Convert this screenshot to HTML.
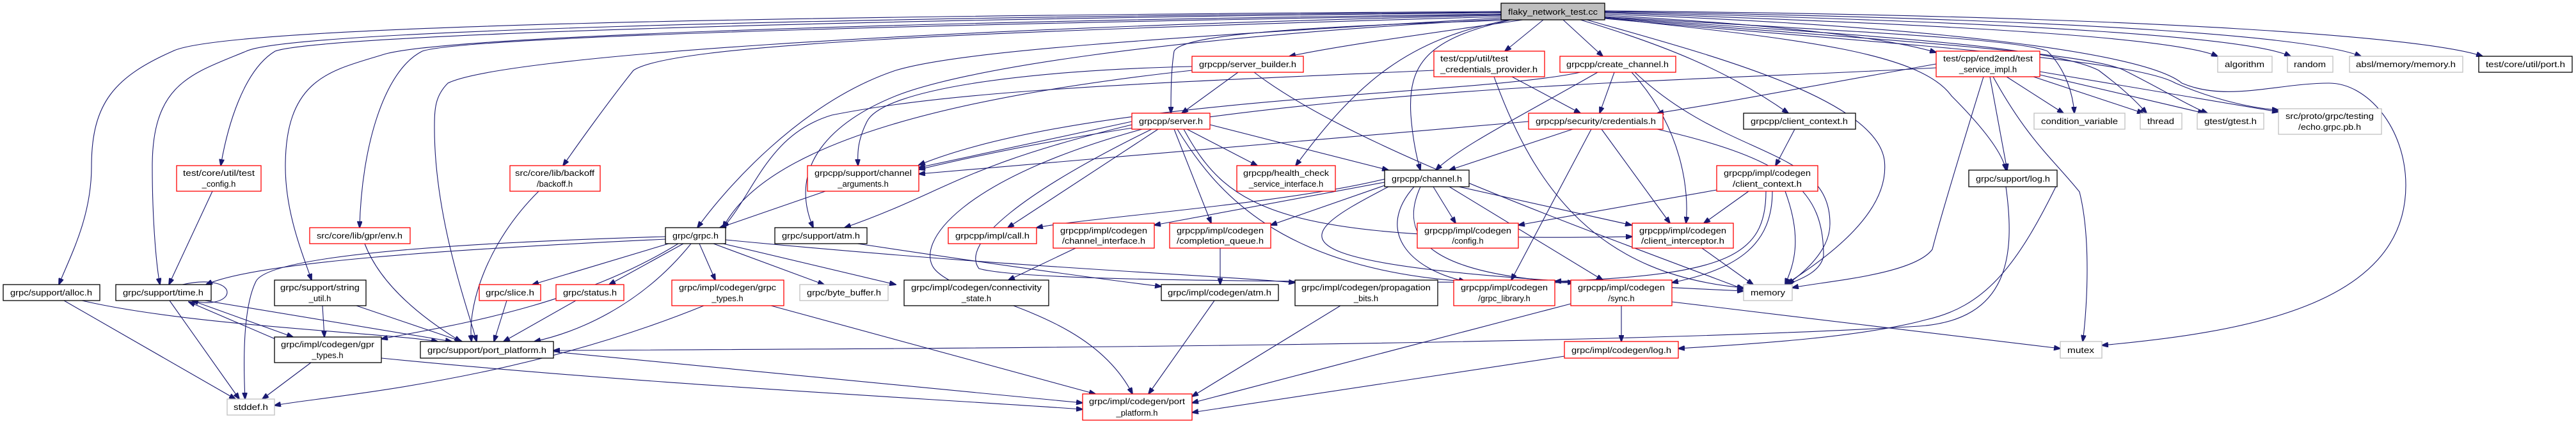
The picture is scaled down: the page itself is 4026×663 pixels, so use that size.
<!DOCTYPE html>
<html><head><meta charset="utf-8"><style>
html,body{margin:0;padding:0;background:#fff;}
svg{display:block;}
text{font-family:"Liberation Sans Narrow","Liberation Sans",sans-serif;font-size:13px;fill:#000;}
.e{fill:none;stroke:#191970;stroke-width:1.1;marker-end:url(#a);}
.r{fill:#fff;stroke:#ff0000;stroke-width:1.3;}
.b{fill:#fff;stroke:#000;stroke-width:1.3;}
.g{fill:#fff;stroke:#bfbfbf;stroke-width:1.3;}
</style></head><body>
<svg width="4026" height="663" viewBox="0 0 4026 663" xmlns="http://www.w3.org/2000/svg">
<defs><marker id="a" markerWidth="11" markerHeight="8" refX="10" refY="4" orient="auto" markerUnits="userSpaceOnUse"><path d="M0,0 L11,4 L0,8 z" fill="#191970" stroke="#191970"/></marker></defs>

<!-- edges from flaky -->
<path class="e" d="M2346,18 C1200,25 350,40 270,80 C180,120 143,160 143,260 C143,340 110,400 92,445"/>
<path class="e" d="M2346,19 C1200,28 450,50 385,80 C300,115 238,130 238,260 C238,350 245,420 250,445"/>
<path class="e" d="M2346,20 C1300,30 500,55 430,80 C380,110 355,200 345,259"/>
<path class="e" d="M2346,22 C1300,35 680,60 600,85 C520,110 446,120 446,260 C446,330 470,390 487,438"/>
<path class="e" d="M2346,23 C1300,40 720,60 660,80 C600,110 565,230 562,356"/>
<path class="e" d="M2346,24 C1400,45 780,90 700,130 C680,150 679,170 679,200 C679,340 730,480 745,534"/>
<path class="e" d="M2346,26 C1500,50 1050,70 990,110 C950,160 900,230 880,259"/>
<path class="e" d="M2346,28 C1800,60 1500,80 1400,110 C1250,160 1130,300 1090,356"/>
<path class="e" d="M2346,30 C1800,60 1500,110 1400,150 C1300,190 1230,260 1271,356"/>
<path class="e" d="M2370,31 C2100,40 1850,50 1835,80 C1830,110 1830,150 1830,177"/>
<path class="e" d="M2380,31 C2250,50 2100,70 2015,88"/>
<path class="e" d="M2360,31 C2200,60 2120,130 2025,259"/>
<path class="e" d="M2362,31 C2230,60 2200,100 2205,180 C2208,220 2215,250 2220,266"/>
<path class="e" d="M2412,31 L2352,80"/>
<path class="e" d="M2443,31 L2505,88"/>
<path class="e" d="M2470,31 C2600,70 2700,110 2795,177"/>
<path class="e" d="M2480,31 C2650,80 2930,150 2945,250 C2955,330 2860,400 2790,445"/>
<path class="e" d="M2508,28 C2800,60 3000,80 3050,150 C3100,200 3130,240 3135,266"/>
<path class="e" d="M2508,22 C3000,40 3350,80 3410,130 C3480,160 3560,130 3640,130 C3700,130 3760,200 3760,290 C3760,480 3500,520 3285,540"/>
<path class="e" d="M2508,24 C2800,40 2950,60 3026,82"/>
<path class="e" d="M2508,20 C3100,40 3400,60 3466,88"/>
<path class="e" d="M2508,19 C3200,35 3520,60 3580,88"/>
<path class="e" d="M2508,18 C3300,30 3620,60 3690,88"/>
<path class="e" d="M2508,17 C3400,25 3800,60 3880,88"/>
<path class="e" d="M2508,26 C2900,50 3150,60 3200,80 C3230,110 3240,150 3242,177"/>
<path class="e" d="M2508,27 C2900,55 3200,70 3280,110 C3320,140 3340,160 3355,177"/>
<path class="e" d="M2508,28 C2900,60 3260,80 3320,110 C3380,140 3420,165 3450,177"/>
<path class="e" d="M2508,29 C2900,65 3330,90 3400,130 C3470,160 3530,170 3561,172"/>

<!-- left cluster -->
<path class="e" d="M332,299 L264,445"/>
<path class="e" d="M842,299 C760,380 730,480 737,534"/>
<path class="e" d="M570,381 C600,460 690,515 720,534"/>
<path class="e" d="M504,478 L507,527"/>
<path class="e" d="M557,478 L722,534"/>
<path class="e" d="M100,470 L368,624"/>
<path class="e" d="M128,470 C300,510 600,520 684,534"/>
<path class="e" d="M265,470 L374,624"/>
<path class="e" d="M285,445 C330,435 355,445 355,457 C355,470 330,478 300,470"/>
<path class="e" d="M320,470 L706,534"/>
<path class="e" d="M300,470 L458,527"/>
<path class="e" d="M430,530 L295,472"/>
<path class="e" d="M486,567 L410,624"/>
<path class="e" d="M596,560 C1000,600 1400,620 1692,640"/>
<path class="e" d="M865,550 C1200,580 1500,610 1692,630"/>
<path class="e" d="M792,470 L772,534"/>
<path class="e" d="M900,470 L787,534"/>

<!-- grpc.h -->
<path class="e" d="M1040,374 C700,390 400,410 322,445"/>
<path class="e" d="M1040,370 C700,380 420,400 400,440 C380,480 380,560 383,624"/>
<path class="e" d="M1045,381 L832,445"/>
<path class="e" d="M1068,381 L952,445"/>
<path class="e" d="M1060,381 C900,480 700,510 596,530"/>
<path class="e" d="M1080,381 C1000,480 900,520 835,534"/>
<path class="e" d="M1093,381 L1118,438"/>
<path class="e" d="M1115,381 L1288,445"/>
<path class="e" d="M1130,381 L1400,445"/>
<path class="e" d="M1134,375 C1600,420 1900,430 2024,442"/>
<path class="e" d="M1100,478 C800,600 500,620 429,634"/>
<path class="e" d="M1205,478 L1712,616"/>
<path class="e" d="M1290,299 L1125,356"/>

<!-- server builder / server -->
<path class="e" d="M1935,113 L1847,177"/>
<path class="e" d="M1863,104 C1600,110 1380,140 1355,190 C1340,220 1340,240 1341,259"/>
<path class="e" d="M1960,113 C2100,220 2400,330 2725,452"/>
<path class="e" d="M1863,110 C1500,150 1200,220 1130,356"/>
<path class="e" d="M1769,190 L1436,262"/>
<path class="e" d="M1769,195 C1500,260 1480,300 1320,356"/>
<path class="e" d="M1810,202 L1575,356"/>
<path class="e" d="M1855,202 L1965,259"/>
<path class="e" d="M1835,202 L1893,349"/>
<path class="e" d="M1891,195 L2170,266"/>
<path class="e" d="M1850,202 C1920,330 2000,380 2551,370"/>
<path class="e" d="M1785,202 C1500,280 1430,380 1460,420 C1500,470 1700,480 1770,616"/>
<path class="e" d="M1840,202 C1900,300 2000,420 2290,440"/>
<path class="e" d="M1800,202 C1600,300 1500,380 1530,420 C1600,440 2000,440 2470,442"/>

<!-- create_channel / credentials / test_cred -->
<path class="e" d="M2523,113 L2500,177"/>
<path class="e" d="M2497,113 C2380,180 2280,230 2244,266"/>
<path class="e" d="M2550,113 C2630,200 2640,300 2635,349"/>
<path class="e" d="M2555,113 C2700,250 2860,230 2860,350 C2860,400 2800,440 2792,445"/>
<path class="e" d="M2470,113 C2300,150 1700,150 1436,258"/>
<path class="e" d="M2363,120 L2470,177"/>
<path class="e" d="M2335,120 C2400,300 2500,430 2725,450"/>
<path class="e" d="M2241,110 C1800,130 1500,140 1300,180 C1200,210 1180,300 1130,356"/>
<path class="e" d="M2458,202 L2265,266"/>
<path class="e" d="M2389,190 L1436,272"/>
<path class="e" d="M2503,202 L2610,349"/>
<path class="e" d="M2487,202 L2362,438"/>
<path class="e" d="M2590,202 C2800,250 2850,300 2850,400 C2845,430 2800,440 2795,445"/>
<path class="e" d="M2805,202 L2775,259"/>
<path class="e" d="M2683,297 L2373,352"/>
<path class="e" d="M2733,299 L2663,349"/>
<path class="e" d="M2790,299 C2820,380 2800,420 2790,445"/>
<path class="e" d="M2770,299 C2770,380 2720,420 2613,442"/>
<path class="e" d="M2760,299 C2760,400 2700,430 2430,440"/>

<!-- channel.h -->
<path class="e" d="M2240,292 L2275,349"/>
<path class="e" d="M2280,292 L2550,352"/>
<path class="e" d="M2265,292 L2505,438"/>
<path class="e" d="M2210,292 C2150,360 2200,420 2290,440"/>
<path class="e" d="M2220,292 C2180,380 2250,430 2460,442"/>
<path class="e" d="M2164,290 L1986,352"/>
<path class="e" d="M2164,285 L1804,352"/>
<path class="e" d="M2164,280 C2000,320 1700,340 1620,356"/>
<path class="e" d="M2170,292 C2000,380 1950,420 2725,455"/>
<path class="e" d="M2660,388 L2740,445"/>

<!-- bottom -->
<path class="e" d="M2534,478 L2534,534"/>
<path class="e" d="M2613,472 L3220,545"/>
<path class="e" d="M2455,475 L1863,630"/>
<path class="e" d="M2445,557 L1863,645"/>
<path class="e" d="M2095,478 L1863,620"/>
<path class="e" d="M1898,470 L1795,616"/>
<path class="e" d="M1907,388 L1907,445"/>
<path class="e" d="M1681,388 L1576,438"/>
<path class="e" d="M1340,381 C1600,420 1750,440 1815,448"/>
<path class="e" d="M3213,292 C3150,420 3100,480 3010,500 C2900,530 2700,540 2623,545"/>
<path class="e" d="M3135,292 C3150,400 3140,500 3000,510 C2500,540 1500,545 865,548"/>

<!-- test_service_impl -->
<path class="e" d="M3026,100 C2800,140 2700,160 2590,177"/>
<path class="e" d="M3136,120 L3225,177"/>
<path class="e" d="M3178,120 L3350,177"/>
<path class="e" d="M3188,117 L3445,177"/>
<path class="e" d="M3188,112 L3561,175"/>
<path class="e" d="M3110,120 L3137,266"/>
<path class="e" d="M3115,120 C3170,220 3210,250 3250,300 C3270,380 3260,500 3255,534"/>
<path class="e" d="M3100,120 C3060,250 3030,350 3020,390 C2990,430 2850,440 2801,450"/>
<path class="e" d="M3026,106 C2600,130 2000,130 1436,265"/>

<!-- nodes -->
<rect x="2346" y="5" width="162" height="26" fill="#bfbfbf" stroke="#000" stroke-width="1.3"/>
<text x="2427" y="23" text-anchor="middle" textLength="140" lengthAdjust="spacingAndGlyphs">flaky_network_test.cc</text>

<rect class="r" x="276" y="259" width="132" height="40"/>
<text x="342" y="275" text-anchor="middle" textLength="112" lengthAdjust="spacingAndGlyphs">test/core/util/test</text>
<text x="342" y="292" text-anchor="middle">_config.h</text>

<rect class="r" x="797" y="259" width="141" height="40"/>
<text x="867" y="275" text-anchor="middle" textLength="124" lengthAdjust="spacingAndGlyphs">src/core/lib/backoff</text>
<text x="867" y="292" text-anchor="middle">/backoff.h</text>

<rect class="r" x="484" y="356" width="157" height="25"/>
<text x="562" y="373" text-anchor="middle" textLength="134" lengthAdjust="spacingAndGlyphs">src/core/lib/gpr/env.h</text>

<rect class="b" x="5" y="445" width="151" height="25"/>
<text x="80" y="462" text-anchor="middle" textLength="128" lengthAdjust="spacingAndGlyphs">grpc/support/alloc.h</text>

<rect class="b" x="181" y="445" width="149" height="25"/>
<text x="255" y="462" text-anchor="middle" textLength="126" lengthAdjust="spacingAndGlyphs">grpc/support/time.h</text>

<rect class="b" x="429" y="438" width="143" height="40"/>
<text x="500" y="454" text-anchor="middle" textLength="124" lengthAdjust="spacingAndGlyphs">grpc/support/string</text>
<text x="500" y="471" text-anchor="middle">_util.h</text>

<rect class="r" x="749" y="445" width="96" height="25"/>
<text x="797" y="462" text-anchor="middle" textLength="76" lengthAdjust="spacingAndGlyphs">grpc/slice.h</text>

<rect class="r" x="869" y="445" width="106" height="25"/>
<text x="922" y="462" text-anchor="middle" textLength="84" lengthAdjust="spacingAndGlyphs">grpc/status.h</text>

<rect class="b" x="429" y="527" width="167" height="40"/>
<text x="512" y="543" text-anchor="middle" textLength="146" lengthAdjust="spacingAndGlyphs">grpc/impl/codegen/gpr</text>
<text x="512" y="560" text-anchor="middle">_types.h</text>

<rect class="b" x="657" y="534" width="208" height="26"/>
<text x="761" y="552" text-anchor="middle" textLength="186" lengthAdjust="spacingAndGlyphs">grpc/support/port_platform.h</text>

<rect class="g" x="355" y="624" width="74" height="25"/>
<text x="392" y="641" text-anchor="middle" textLength="54" lengthAdjust="spacingAndGlyphs">stddef.h</text>

<rect class="r" x="1863" y="88" width="174" height="25"/>
<text x="1950" y="105" text-anchor="middle" textLength="152" lengthAdjust="spacingAndGlyphs">grpcpp/server_builder.h</text>

<rect class="r" x="1769" y="177" width="122" height="25"/>
<text x="1830" y="194" text-anchor="middle" textLength="100" lengthAdjust="spacingAndGlyphs">grpcpp/server.h</text>

<rect class="r" x="1262" y="259" width="174" height="40"/>
<text x="1349" y="275" text-anchor="middle" textLength="152" lengthAdjust="spacingAndGlyphs">grpcpp/support/channel</text>
<text x="1349" y="292" text-anchor="middle">_arguments.h</text>

<rect class="r" x="1933" y="259" width="154" height="40"/>
<text x="2010" y="275" text-anchor="middle" textLength="134" lengthAdjust="spacingAndGlyphs">grpcpp/health_check</text>
<text x="2010" y="292" text-anchor="middle">_service_interface.h</text>

<rect class="b" x="1040" y="356" width="94" height="25"/>
<text x="1087" y="373" text-anchor="middle" textLength="72" lengthAdjust="spacingAndGlyphs">grpc/grpc.h</text>

<rect class="b" x="1211" y="356" width="144" height="25"/>
<text x="1283" y="373" text-anchor="middle" textLength="122" lengthAdjust="spacingAndGlyphs">grpc/support/atm.h</text>

<rect class="r" x="1482" y="356" width="138" height="25"/>
<text x="1551" y="373" text-anchor="middle" textLength="116" lengthAdjust="spacingAndGlyphs">grpcpp/impl/call.h</text>

<rect class="r" x="1646" y="349" width="158" height="39"/>
<text x="1725" y="365" text-anchor="middle" textLength="136" lengthAdjust="spacingAndGlyphs">grpcpp/impl/codegen</text>
<text x="1725" y="381" text-anchor="middle" textLength="130" lengthAdjust="spacingAndGlyphs">/channel_interface.h</text>

<rect class="r" x="1828" y="349" width="158" height="39"/>
<text x="1907" y="365" text-anchor="middle" textLength="136" lengthAdjust="spacingAndGlyphs">grpcpp/impl/codegen</text>
<text x="1907" y="381" text-anchor="middle" textLength="136" lengthAdjust="spacingAndGlyphs">/completion_queue.h</text>

<rect class="r" x="1050" y="438" width="175" height="40"/>
<text x="1137" y="454" text-anchor="middle" textLength="152" lengthAdjust="spacingAndGlyphs">grpc/impl/codegen/grpc</text>
<text x="1137" y="471" text-anchor="middle">_types.h</text>

<rect class="g" x="1250" y="445" width="138" height="25"/>
<text x="1319" y="462" text-anchor="middle" textLength="116" lengthAdjust="spacingAndGlyphs">grpc/byte_buffer.h</text>

<rect class="b" x="1413" y="438" width="226" height="40"/>
<text x="1526" y="454" text-anchor="middle" textLength="204" lengthAdjust="spacingAndGlyphs">grpc/impl/codegen/connectivity</text>
<text x="1526" y="471" text-anchor="middle">_state.h</text>

<rect class="b" x="1815" y="445" width="183" height="25"/>
<text x="1906" y="462" text-anchor="middle" textLength="162" lengthAdjust="spacingAndGlyphs">grpc/impl/codegen/atm.h</text>

<rect class="r" x="1692" y="616" width="171" height="41"/>
<text x="1777" y="632" text-anchor="middle" textLength="150" lengthAdjust="spacingAndGlyphs">grpc/impl/codegen/port</text>
<text x="1777" y="650" text-anchor="middle">_platform.h</text>

<rect class="r" x="2241" y="80" width="173" height="40"/>
<text x="2251" y="96" textLength="106" lengthAdjust="spacingAndGlyphs">test/cpp/util/test</text>
<text x="2327" y="113" text-anchor="middle" textLength="152" lengthAdjust="spacingAndGlyphs">_credentials_provider.h</text>

<rect class="r" x="2438" y="88" width="181" height="25"/>
<text x="2528" y="105" text-anchor="middle" textLength="160" lengthAdjust="spacingAndGlyphs">grpcpp/create_channel.h</text>

<rect class="r" x="2389" y="177" width="210" height="25"/>
<text x="2494" y="194" text-anchor="middle" textLength="188" lengthAdjust="spacingAndGlyphs">grpcpp/security/credentials.h</text>

<rect class="b" x="2725" y="177" width="175" height="25"/>
<text x="2812" y="194" text-anchor="middle" textLength="152" lengthAdjust="spacingAndGlyphs">grpcpp/client_context.h</text>

<rect class="b" x="2164" y="266" width="132" height="26"/>
<text x="2230" y="284" text-anchor="middle" textLength="110" lengthAdjust="spacingAndGlyphs">grpcpp/channel.h</text>

<rect class="r" x="2683" y="259" width="158" height="40"/>
<text x="2762" y="275" text-anchor="middle" textLength="136" lengthAdjust="spacingAndGlyphs">grpcpp/impl/codegen</text>
<text x="2762" y="292" text-anchor="middle" textLength="108" lengthAdjust="spacingAndGlyphs">/client_context.h</text>

<rect class="r" x="2215" y="349" width="158" height="39"/>
<text x="2294" y="365" text-anchor="middle" textLength="136" lengthAdjust="spacingAndGlyphs">grpcpp/impl/codegen</text>
<text x="2294" y="381" text-anchor="middle">/config.h</text>

<rect class="r" x="2551" y="349" width="158" height="39"/>
<text x="2630" y="365" text-anchor="middle" textLength="136" lengthAdjust="spacingAndGlyphs">grpcpp/impl/codegen</text>
<text x="2630" y="381" text-anchor="middle" textLength="130" lengthAdjust="spacingAndGlyphs">/client_interceptor.h</text>

<rect class="b" x="2024" y="438" width="223" height="40"/>
<text x="2135" y="454" text-anchor="middle" textLength="202" lengthAdjust="spacingAndGlyphs">grpc/impl/codegen/propagation</text>
<text x="2135" y="471" text-anchor="middle">_bits.h</text>

<rect class="r" x="2272" y="438" width="158" height="40"/>
<text x="2351" y="454" text-anchor="middle" textLength="136" lengthAdjust="spacingAndGlyphs">grpcpp/impl/codegen</text>
<text x="2351" y="471" text-anchor="middle">/grpc_library.h</text>

<rect class="r" x="2455" y="438" width="158" height="40"/>
<text x="2534" y="454" text-anchor="middle" textLength="136" lengthAdjust="spacingAndGlyphs">grpcpp/impl/codegen</text>
<text x="2534" y="471" text-anchor="middle">/sync.h</text>

<rect class="g" x="2725" y="445" width="76" height="25"/>
<text x="2763" y="462" text-anchor="middle" textLength="54" lengthAdjust="spacingAndGlyphs">memory</text>

<rect class="r" x="2445" y="534" width="178" height="26"/>
<text x="2534" y="552" text-anchor="middle" textLength="156" lengthAdjust="spacingAndGlyphs">grpc/impl/codegen/log.h</text>

<rect class="r" x="3026" y="80" width="162" height="40"/>
<text x="3107" y="96" text-anchor="middle" textLength="140" lengthAdjust="spacingAndGlyphs">test/cpp/end2end/test</text>
<text x="3107" y="113" text-anchor="middle">_service_impl.h</text>

<rect class="g" x="3466" y="88" width="85" height="25"/>
<text x="3508" y="105" text-anchor="middle" textLength="62" lengthAdjust="spacingAndGlyphs">algorithm</text>

<rect class="g" x="3575" y="88" width="71" height="25"/>
<text x="3610" y="105" text-anchor="middle" textLength="50" lengthAdjust="spacingAndGlyphs">random</text>

<rect class="g" x="3672" y="88" width="177" height="25"/>
<text x="3760" y="105" text-anchor="middle" textLength="156" lengthAdjust="spacingAndGlyphs">absl/memory/memory.h</text>

<rect class="b" x="3874" y="88" width="146" height="25"/>
<text x="3947" y="105" text-anchor="middle" textLength="124" lengthAdjust="spacingAndGlyphs">test/core/util/port.h</text>

<rect class="g" x="3179" y="177" width="142" height="25"/>
<text x="3250" y="194" text-anchor="middle" textLength="120" lengthAdjust="spacingAndGlyphs">condition_variable</text>

<rect class="g" x="3345" y="177" width="65" height="25"/>
<text x="3377" y="194" text-anchor="middle" textLength="42" lengthAdjust="spacingAndGlyphs">thread</text>

<rect class="g" x="3434" y="177" width="104" height="25"/>
<text x="3486" y="194" text-anchor="middle" textLength="82" lengthAdjust="spacingAndGlyphs">gtest/gtest.h</text>

<rect class="g" x="3561" y="170" width="161" height="40"/>
<text x="3641" y="186" text-anchor="middle" textLength="138" lengthAdjust="spacingAndGlyphs">src/proto/grpc/testing</text>
<text x="3641" y="203" text-anchor="middle" textLength="98" lengthAdjust="spacingAndGlyphs">/echo.grpc.pb.h</text>

<rect class="b" x="3077" y="266" width="138" height="26"/>
<text x="3146" y="284" text-anchor="middle" textLength="116" lengthAdjust="spacingAndGlyphs">grpc/support/log.h</text>

<rect class="g" x="3220" y="534" width="65" height="26"/>
<text x="3252" y="552" text-anchor="middle" textLength="42" lengthAdjust="spacingAndGlyphs">mutex</text>
</svg>
</body></html>
